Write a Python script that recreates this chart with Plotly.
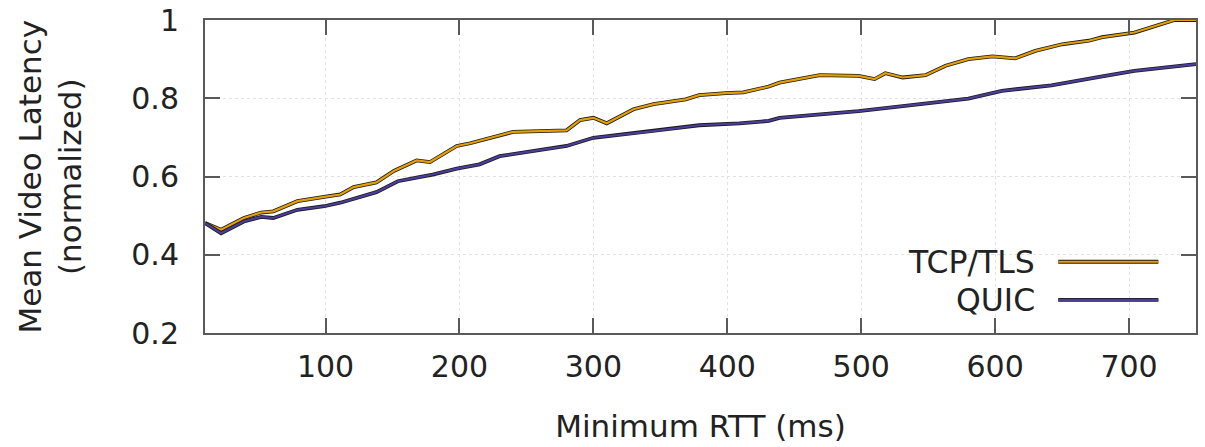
import plotly.graph_objects as go

# ---- data ----
tcp_x = [10, 22, 39, 52, 61, 79, 99, 111, 121, 138, 151, 168, 178, 198, 208, 223, 240, 280, 290, 300, 310,
         330, 345, 369, 379, 399, 412, 431, 439, 469, 498, 510, 518, 531, 548, 563, 580, 598, 615, 630,
         650, 670, 680, 704, 719, 734, 750]
tcp_y = [0.481, 0.464, 0.494, 0.508, 0.511, 0.537, 0.548, 0.554, 0.573, 0.585, 0.614, 0.641, 0.637, 0.678,
         0.685, 0.699, 0.714, 0.718, 0.744, 0.750, 0.736, 0.772, 0.785, 0.797, 0.808, 0.813, 0.815, 0.830,
         0.840, 0.859, 0.857, 0.849, 0.864, 0.853, 0.859, 0.883, 0.900, 0.907, 0.902, 0.921, 0.938, 0.947,
         0.956, 0.968, 0.984, 1.0, 1.0]

quic_x = [10, 22, 39, 52, 61, 79, 99, 111, 138, 154, 168, 180, 198, 215, 230, 280, 300, 340, 379, 409,
          431, 439, 498, 531, 580, 605, 642, 680, 704, 750]
quic_y = [0.481, 0.455, 0.485, 0.497, 0.494, 0.515, 0.524, 0.533, 0.560, 0.588, 0.597, 0.605, 0.620, 0.631,
          0.652, 0.678, 0.699, 0.714, 0.731, 0.736, 0.742, 0.750, 0.767, 0.780, 0.799, 0.819, 0.833, 0.856,
          0.870, 0.887]

series_names = ["TCP/TLS", "QUIC"]
series_colors = ["#E69F00", "#4B3D9A"]
x_ticks = [100, 200, 300, 400, 500, 600, 700]
y_ticks = [0.2, 0.4, 0.6, 0.8, 1.0]
y_tick_labels = ["0.2", "0.4", "0.6", "0.8", "1"]

FONT = "DejaVu Sans"
FS_TICK = 30
FS_TITLE = 31
FS_LEG = 31.5
TXT = "#222222"
AX = "#5a5a5a"

fig = go.Figure()
for xs, ys, name, col in [(tcp_x, tcp_y, series_names[0], series_colors[0]),
                          (quic_x, quic_y, series_names[1], series_colors[1])]:
    fig.add_trace(go.Scatter(x=xs, y=ys, mode="lines", line=dict(color="#1a1a1a", width=3.8),
                             showlegend=False, hoverinfo="skip"))
    fig.add_trace(go.Scatter(x=xs, y=ys, mode="lines", line=dict(color=col, width=2.2),
                             name=name, showlegend=False))

# legend box (white background hides grid)
fig.add_shape(type="rect", xref="paper", yref="paper", x0=0.70, x1=0.974, y0=0.0, y1=0.29,
              fillcolor="white", line=dict(width=0), layer="between")

leg_y = [0.2276, 0.1058]
for name, col, yy in zip(series_names, series_colors, leg_y):
    fig.add_annotation(xref="paper", yref="paper", x=0.8395, y=yy, text=name, showarrow=False,
                       xanchor="right", yanchor="middle", font=dict(family=FONT, size=FS_LEG, color=TXT))
    fig.add_shape(type="line", xref="paper", yref="paper", x0=0.861, x1=0.962, y0=yy, y1=yy,
                  line=dict(color="#1a1a1a", width=3.8))
    fig.add_shape(type="line", xref="paper", yref="paper", x0=0.861, x1=0.962, y0=yy, y1=yy,
                  line=dict(color=col, width=2.2))

axis_common = dict(
    showline=True, linecolor=AX, linewidth=2, mirror="allticks",
    ticks="inside", ticklen=15, tickwidth=2, tickcolor=AX,
    showgrid=True, gridcolor="#e2e2e2", gridwidth=1, griddash="dot",
    zeroline=False, tickfont=dict(family=FONT, size=FS_TICK, color=TXT),
)

fig.update_xaxes(range=[10, 750], tickvals=x_ticks, ticklabelstandoff=6,
                 title=dict(text="Minimum RTT (ms)", font=dict(family=FONT, size=FS_TITLE, color=TXT), standoff=32),
                 **axis_common)
fig.update_yaxes(range=[0.2, 1.0], tickvals=y_ticks, ticktext=y_tick_labels, ticklabelstandoff=18,
                 **axis_common)

fig.add_annotation(xref="paper", yref="paper", x=-0.1574, y=0.5, textangle=-90,
                   text="Mean Video Latency<br>(normalized)", showarrow=False,
                   xanchor="center", yanchor="middle", font=dict(family=FONT, size=FS_TITLE, color=TXT))

fig.update_layout(
    width=1205, height=447,
    margin=dict(l=205, r=9, t=20, b=114, autoexpand=False),
    plot_bgcolor="white", paper_bgcolor="white",
    showlegend=False,
    font=dict(family=FONT, size=FS_TICK, color=TXT),
)

fig.write_html("out.html")
